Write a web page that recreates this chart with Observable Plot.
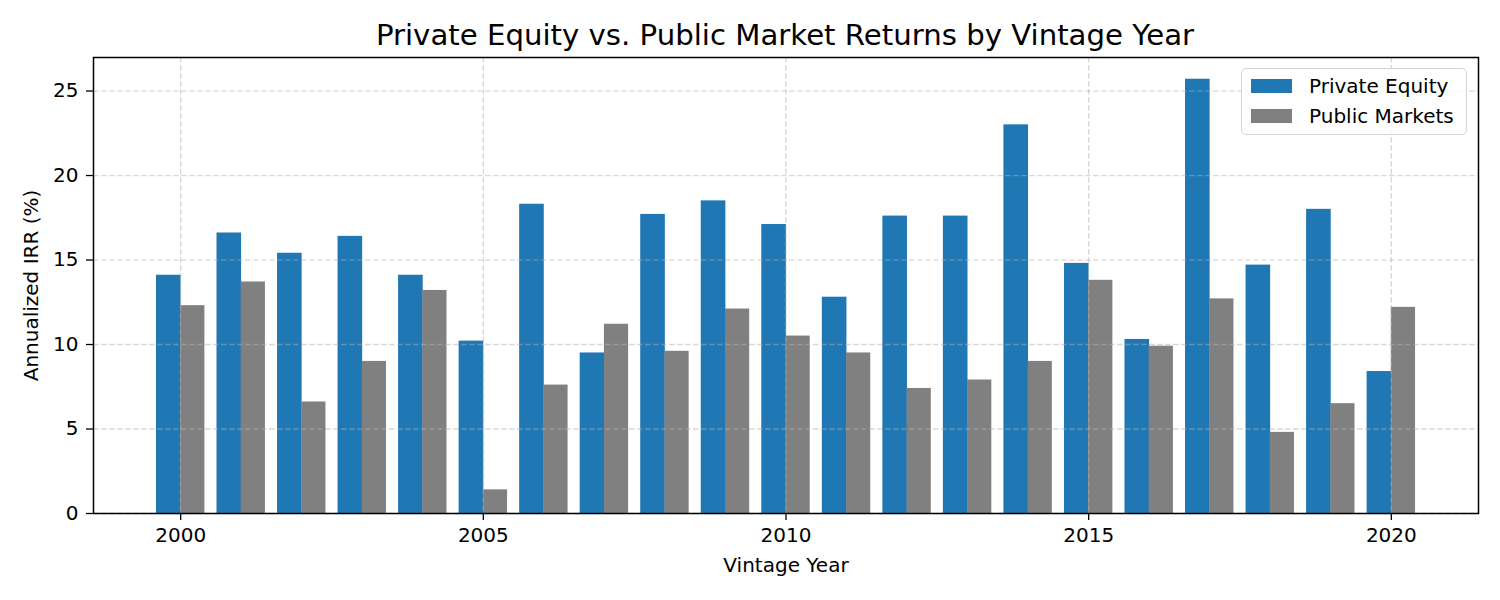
<!DOCTYPE html>
<html>
<head>
<meta charset="utf-8">
<script src="https://cdn.jsdelivr.net/npm/d3@7"></script>
<script src="https://cdn.jsdelivr.net/npm/@observablehq/plot@0.6"></script>
<style>
  html, body { margin: 0; padding: 0; background: #fff; }
  #wrap { position: relative; width: 1500px; height: 600px; font-family: "DejaVu Sans", sans-serif; }
  #title { height: 50px; box-sizing: border-box; padding-top: 20.6px; line-height: 28.8px; font-size: 29.2px; text-align: center; color: #000; white-space: nowrap; padding-left: 70px; }
  #legend { position: absolute; left: 1241px; top: 68px; width: 226px; height: 67px; box-sizing: border-box;
    border: 1.3px solid #d4d4d4; border-radius: 5px; background: rgba(255,255,255,0.8); }
  .item { position: absolute; left: 9px; height: 30px; display: flex; align-items: center; font-size: 20px; color: #000; }
  .sw { width: 41px; height: 14px; margin-right: 17px; }
  svg { display: block; }
</style>
</head>
<body>
<div id="wrap">
  <div id="title">Private Equity vs. Public Market Returns by Vintage Year</div>
  <div id="chart"></div>
  <div id="legend"></div>
</div>
<script>
const years = [2000, 2001, 2002, 2003, 2004, 2005, 2006, 2007, 2008, 2009, 2010,
               2011, 2012, 2013, 2014, 2015, 2016, 2017, 2018, 2019, 2020];
const privateEquity = [14.1, 16.6, 15.4, 16.4, 14.1, 10.2, 18.3, 9.5, 17.7, 18.5, 17.1,
                       12.8, 17.6, 17.6, 23.0, 14.8, 10.3, 25.7, 14.7, 18.0, 8.4];
const publicMarkets = [12.3, 13.7, 6.6, 9.0, 13.2, 1.4, 7.6, 11.2, 9.6, 12.1, 10.5,
                       9.5, 7.4, 7.9, 9.0, 13.8, 9.9, 12.7, 4.8, 6.5, 12.2];
const seriesNames = ["Private Equity", "Public Markets"];
const seriesColors = ["#1f77b4", "#808080"];
const xTicks = [2000, 2005, 2010, 2015, 2020];
const yTicks = [0, 5, 10, 15, 20, 25];

const barWidth = 0.4;
const rows = years.map((year, i) => ({year, pe: privateEquity[i], pub: publicMarkets[i]}));
const yMax = d3.max([...privateEquity, ...publicMarkets]) * 1.05;
const xMin = years[0] - barWidth, xMax = years[years.length - 1] + barWidth;
const xPad = (xMax - xMin) * 0.05;

const gridStyle = {stroke: "#b0b0b0", strokeOpacity: 0.5, strokeWidth: 1.3, strokeDasharray: "5.5,2.5"};

const chart = Plot.plot({
  width: 1500,
  height: 550,
  marginTop: 7,
  marginBottom: 87,
  marginLeft: 93,
  marginRight: 22,
  style: {fontFamily: "DejaVu Sans, sans-serif", fontSize: "20px", color: "#000", background: "#fff"},
  x: {domain: [xMin - xPad, xMax + xPad]},
  y: {domain: [0, yMax]},
  marks: [
    Plot.rectY(rows, {x1: d => d.year - barWidth, x2: d => d.year, y: "pe", fill: seriesColors[0], insetRight: -0.4}),
    Plot.rectY(rows, {x1: d => d.year, x2: d => d.year + barWidth, y: "pub", fill: seriesColors[1]}),
    Plot.gridX(xTicks, gridStyle),
    Plot.gridY(yTicks, gridStyle),
    Plot.axisY({ticks: yTicks, tickSize: 7, tickPadding: 8, strokeWidth: 1.3, fontSize: 20,
      label: "Annualized IRR (%)", labelAnchor: "center", labelArrow: "none", labelOffset: 70}),
    Plot.axisX({ticks: xTicks, tickFormat: d => String(d), tickSize: 7, tickPadding: 7, strokeWidth: 1.3, fontSize: 20,
      label: "Vintage Year", labelAnchor: "center", labelArrow: "none", labelOffset: 58}),
    Plot.frame({stroke: "#000", strokeWidth: 1.5})
  ]
});
document.getElementById("chart").appendChild(chart);

const legend = document.getElementById("legend");
seriesNames.forEach((name, i) => {
  const item = document.createElement("div");
  item.className = "item";
  item.style.top = (2 + i * 30) + "px";
  const sw = document.createElement("span");
  sw.className = "sw";
  sw.style.background = seriesColors[i];
  const label = document.createElement("span");
  label.textContent = name;
  item.appendChild(sw);
  item.appendChild(label);
  legend.appendChild(item);
});
</script>
</body>
</html>
